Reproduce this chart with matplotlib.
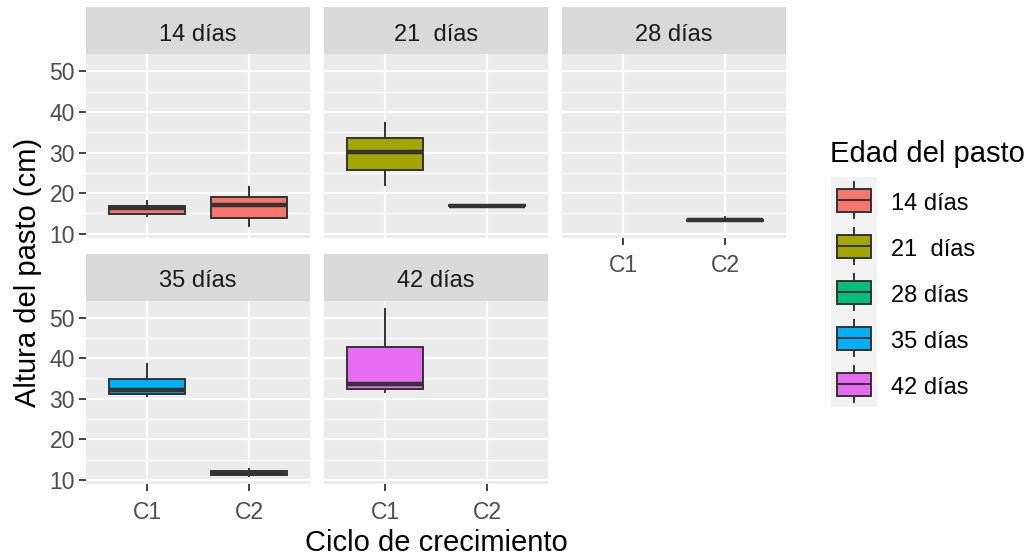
import matplotlib
matplotlib.use("Agg")
import matplotlib.pyplot as plt
from matplotlib.patches import Rectangle

plt.rcParams['font.family'] = ['Liberation Sans', 'DejaVu Sans']

# ---- data ----
edades = ["14 días", "21  días", "28 días", "35 días", "42 días"]
ciclos = ["C1", "C2"]
colores = ["#F8766D", "#A3A500", "#00BF7D", "#00B0F6", "#E76BF3"]

# per facet, per cycle: (whisker low, Q1, median, Q3, whisker high); None = no data
stats_14 = [(14.3, 14.9, 16.3, 16.95, 18.0), (11.9, 13.9, 17.1, 19.0, 21.6)]
stats_21 = [(22.1, 25.7, 30.1, 33.7, 37.3), (16.7, 16.8, 16.9, 17.0, 17.1)]
stats_28 = [None, (13.2, 13.25, 13.3, 13.35, 14.1)]
stats_35 = [(30.7, 31.1, 32.1, 34.8, 38.5), (11.05, 11.2, 11.7, 12.3, 12.7)]
stats_42 = [(31.7, 32.3, 33.6, 42.7, 52.15), None]
all_stats = [stats_14, stats_21, stats_28, stats_35, stats_42]

y_ticks = [10, 20, 30, 40, 50]
y_minor = [15, 25, 35, 45]

# ---- layout in pixels ----
W, H = 1029, 559
fig = plt.figure(figsize=(W / 100, H / 100), dpi=100)


def px_axes(x0, y0, x1, y1):
    return fig.add_axes([x0 / W, 1 - y1 / H, (x1 - x0) / W, (y1 - y0) / H])


col_x = [86, 324, 562]
pw = 224
rows = [(7.3, 54.3, 237.8), (254, 300.5, 484)]  # strip top, plot top, plot bottom

# shared y limits like ggplot (5% expansion)
vals = [v for st in all_stats for s in st if s for v in s]
lo, hi = min(vals), max(vals)
pad = 0.05 * (hi - lo)
ylim = (lo - pad, hi + pad)

dark = "#333333"

for i, (nombre, st) in enumerate(zip(edades, all_stats)):
    r, c = divmod(i, 3)
    x0 = col_x[c]
    s_top, p_top, p_bot = rows[r]
    ax = px_axes(x0, p_top, x0 + pw, p_bot)
    ax.set_facecolor("#EBEBEB")
    for sp in ax.spines.values():
        sp.set_visible(False)
    ax.set_xlim(0.4, 2.6)
    ax.set_ylim(*ylim)
    for yv in y_minor:
        ax.axhline(yv, color="white", lw=0.9, zorder=0)
    for yv in y_ticks:
        ax.axhline(yv, color="white", lw=1.6, zorder=0)
    for xv in (1, 2):
        ax.axvline(xv, color="white", lw=1.6, zorder=0)

    bx = []
    pos = []
    for j, s in enumerate(st):
        if s is None:
            continue
        bx.append(dict(whislo=s[0], q1=s[1], med=s[2], q3=s[3], whishi=s[4], fliers=[]))
        pos.append(j + 1)
    art = ax.bxp(bx, positions=pos, widths=0.75, patch_artist=True, showcaps=False,
                 showfliers=False,
                 boxprops=dict(edgecolor=dark, linewidth=1.4),
                 whiskerprops=dict(color=dark, linewidth=1.4),
                 medianprops=dict(color=dark, linewidth=3.2, solid_capstyle="butt"))
    for b in art["boxes"]:
        b.set_facecolor(colores[i])

    ax.set_yticks(y_ticks)
    ax.set_xticks([1, 2])
    ax.tick_params(axis="both", colors=dark, length=5, width=1.3,
                   labelcolor="#4D4D4D", labelsize=16.5, pad=3)
    ax.tick_params(axis="x", pad=7)
    if c == 0:
        ax.set_yticklabels([str(v) for v in y_ticks])
    else:
        ax.tick_params(axis="y", left=False, labelleft=False)
    if i >= 2:
        ax.set_xticklabels(ciclos)
    else:
        ax.tick_params(axis="x", bottom=False, labelbottom=False)

    # facet strip
    sax = px_axes(x0, s_top, x0 + pw, p_top)
    sax.set_facecolor("#D9D9D9")
    sax.set_xticks([])
    sax.set_yticks([])
    for sp in sax.spines.values():
        sp.set_visible(False)
    sax.text(0.5, 0.42, nombre, ha="center", va="center", fontsize=17,
             color="#1A1A1A", transform=sax.transAxes)

fig.text(436 / W, 1 - 543 / H, "Ciclo de crecimiento", ha="center", va="center",
         fontsize=21, color="black")
fig.text(28 / W, 1 - 272 / H, "Altura del pasto (cm)", ha="center", va="center",
         rotation=90, fontsize=21, color="black")

# ---- legend ----
fig.text(830 / W, 1 - 154 / H, "Edad del pasto", ha="left", va="center",
         fontsize=21, color="black")
key_h = 46
lax = px_axes(831, 177, 877, 177 + key_h * len(edades))
lax.set_xlim(0, 1)
lax.set_ylim(len(edades), 0)
lax.set_facecolor("#F2F2F2")
lax.set_xticks([])
lax.set_yticks([])
for sp in lax.spines.values():
    sp.set_visible(False)
for k, (nombre, col) in enumerate(zip(edades, colores)):
    lax.add_patch(Rectangle((0.125, k + 0.25), 0.75, 0.5, facecolor=col,
                            edgecolor=dark, lw=1.4))
    lax.plot([0.125, 0.875], [k + 0.5, k + 0.5], color=dark, lw=1.4)
    lax.plot([0.5, 0.5], [k + 0.1, k + 0.25], color=dark, lw=1.4)
    lax.plot([0.5, 0.5], [k + 0.75, k + 0.9], color=dark, lw=1.4)
    fig.text(891 / W, 1 - (181 + key_h * (k + 0.5)) / H, nombre, ha="left",
             va="center", fontsize=17, color="black")

fig.savefig("out.png", dpi=100)
